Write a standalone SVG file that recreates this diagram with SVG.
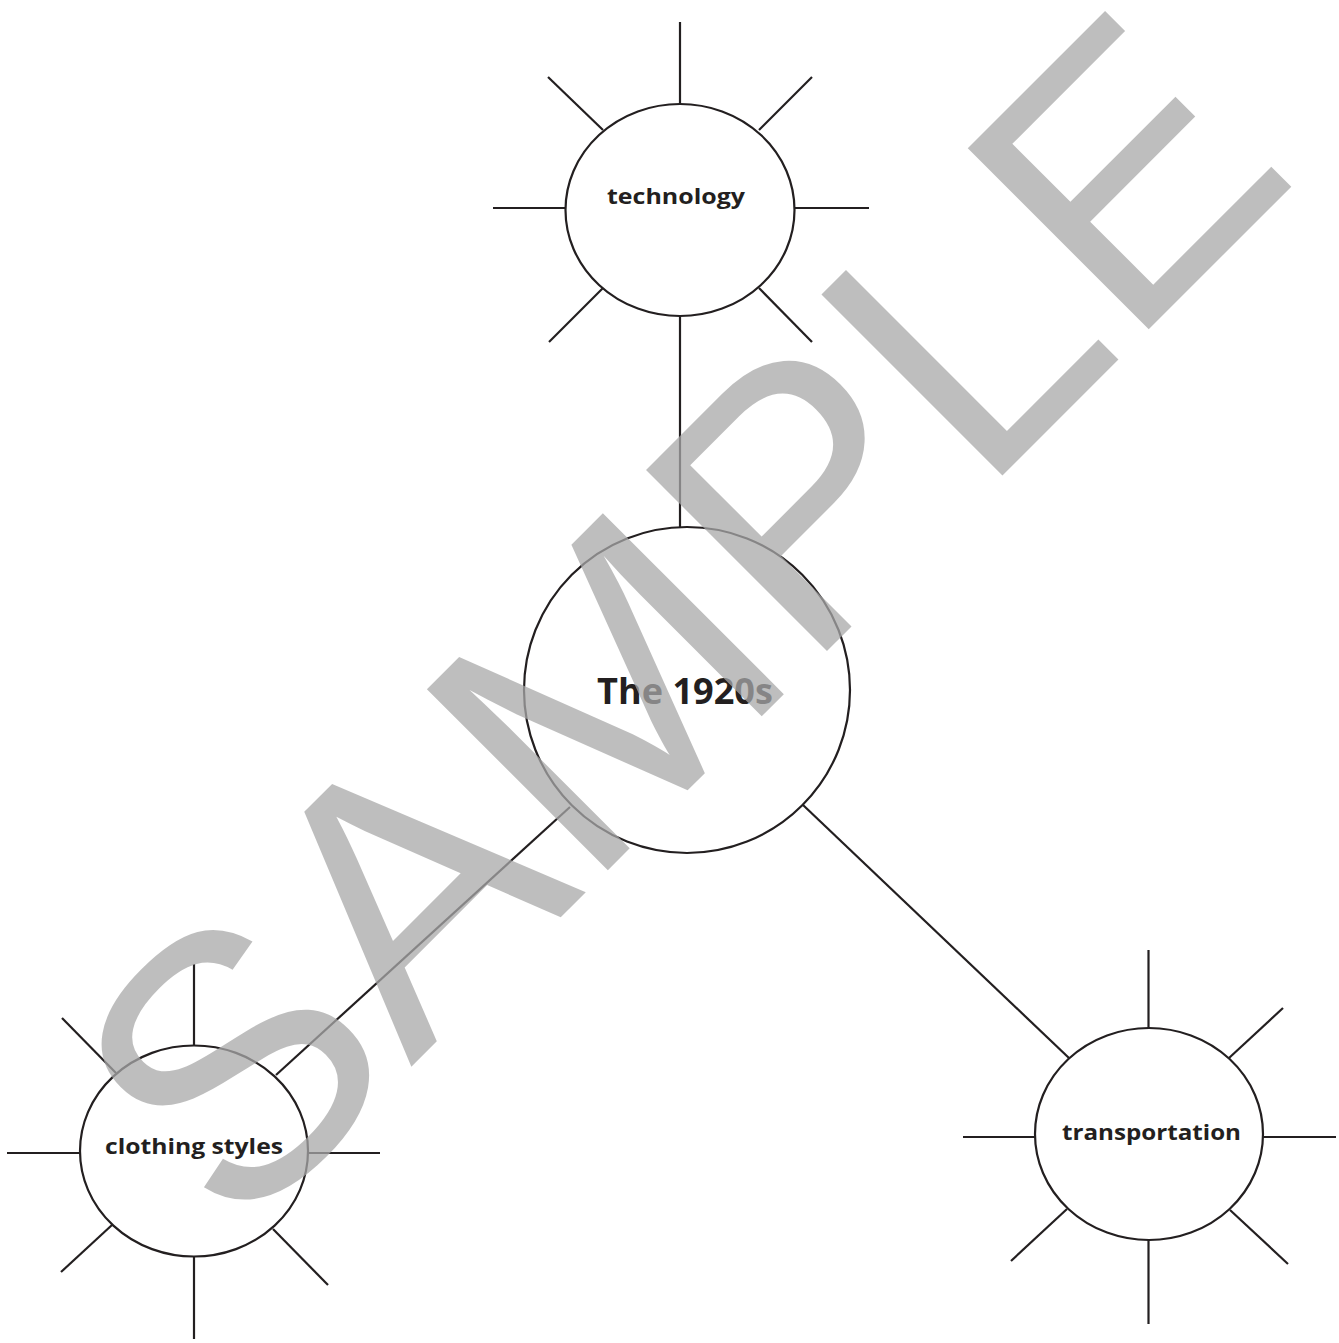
<svg xmlns="http://www.w3.org/2000/svg" width="1339" height="1343" viewBox="0 0 1339 1343">
<style>
.ln{stroke:#231f20;stroke-width:2.2;fill:none}
.nd{stroke:#231f20;stroke-width:2.2;fill:#fff}
.lb{font-family:"Open Sans","Noto Sans","Liberation Sans",sans-serif;font-weight:700;fill:#231f20;text-anchor:middle}
.wm{font-family:"Liberation Sans",Arial,sans-serif;font-size:372px;fill:#a8a8a8;fill-opacity:0.75}
</style>
<rect width="1339" height="1343" fill="#fff"/>
<g id="connectors">
<line class="ln" x1="680" y1="316" x2="680" y2="528"/>
<line class="ln" x1="570" y1="807" x2="276" y2="1075"/>
<line class="ln" x1="803" y1="805" x2="1069" y2="1058"/>
</g>
<g id="node-center">
<circle class="nd" cx="687" cy="690" r="163"/>
<text class="lb" x="685" y="704" font-size="35" textLength="176" lengthAdjust="spacingAndGlyphs">The 1920s</text>
</g>
<g id="node-technology">
<g class="ln">
<line x1="680" y1="22" x2="680" y2="104"/>
<line x1="548" y1="77" x2="603" y2="130"/>
<line x1="812" y1="77" x2="759" y2="130"/>
<line x1="493" y1="208" x2="565" y2="208"/>
<line x1="795" y1="208" x2="869" y2="208"/>
<line x1="603" y1="288" x2="549" y2="342"/>
<line x1="759" y1="288" x2="812" y2="342"/>
</g>
<ellipse class="nd" cx="680" cy="210" rx="114.5" ry="106"/>
<text class="lb" x="676" y="204" font-size="21.5" textLength="138" lengthAdjust="spacingAndGlyphs">technology</text>
</g>
<g id="node-clothing">
<g class="ln">
<line x1="194" y1="964" x2="194" y2="1046"/>
<line x1="62" y1="1018" x2="116" y2="1073"/>
<line x1="7" y1="1153" x2="80" y2="1153"/>
<line x1="308" y1="1153" x2="380" y2="1153"/>
<line x1="112" y1="1225" x2="61" y2="1272"/>
<line x1="273" y1="1229" x2="328" y2="1285"/>
<line x1="194" y1="1257" x2="194" y2="1339"/>
</g>
<ellipse class="nd" cx="194" cy="1151" rx="114" ry="105.5"/>
<text class="lb" x="194" y="1154" font-size="21.5" textLength="178" lengthAdjust="spacingAndGlyphs">clothing styles</text>
</g>
<g id="node-transportation">
<g class="ln">
<line x1="1148.5" y1="950" x2="1148.5" y2="1028"/>
<line x1="1229" y1="1058" x2="1283" y2="1008"/>
<line x1="963" y1="1137" x2="1035" y2="1137"/>
<line x1="1263" y1="1137" x2="1336" y2="1137"/>
<line x1="1067" y1="1209" x2="1011" y2="1261"/>
<line x1="1230" y1="1210" x2="1288" y2="1264"/>
<line x1="1148.5" y1="1240" x2="1148.5" y2="1324"/>
</g>
<ellipse class="nd" cx="1149" cy="1134" rx="114" ry="106"/>
<text class="lb" x="1151.5" y="1140" font-size="21.5" textLength="179" lengthAdjust="spacingAndGlyphs">transportation</text>
</g>
<g id="watermark">
<text class="wm" transform="translate(235.4,1242.6) rotate(-45)">SAMPLE</text>
</g>
</svg>
